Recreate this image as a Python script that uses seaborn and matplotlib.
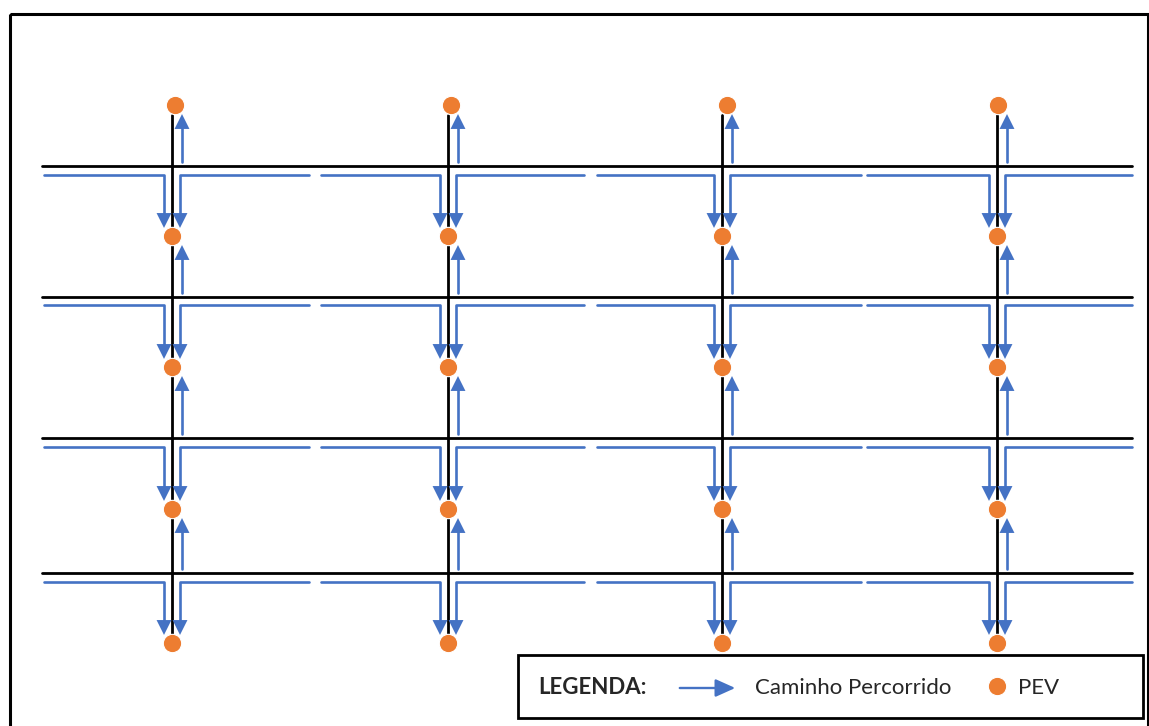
import matplotlib
matplotlib.use("Agg")
import matplotlib.pyplot as plt
import seaborn as sns
import pandas as pd
from matplotlib.patches import Rectangle

sns.set_theme(style="white")
plt.rcParams['font.family'] = ['Lato', 'DejaVu Sans']

BLUE = "#4472C4"
ORANGE = "#ED7D31"

# grid of streets (pixel coordinates of the original diagram)
col_x = [172, 448, 722, 997]
top_pev_x = [175, 451, 727, 998]
street_y = [166, 297, 438, 573]
path_y = [175, 305, 447, 582]
pev_y = [105, 236, 367, 509, 643]
street_x0, street_x1 = 42, 1132
arm_start = [44, 321, 597, 867]
arm_end = [309, 584, 861, 1132]

legend_title = "LEGENDA:"
legend_path = "Caminho Percorrido"
legend_pev = "PEV"

fig = plt.figure(figsize=(11.49, 7.26), dpi=100)
ax = fig.add_axes([0, 0, 1, 1])
ax.set_xlim(0, 1149)
ax.set_ylim(726, 0)
ax.axis("off")

# black streets
rows = []
seg = 0
for y in street_y:
    rows += [(street_x0, y, seg), (street_x1, y, seg)]
    seg += 1
for x in col_x:
    rows += [(x, pev_y[0] + 10, seg), (x, pev_y[-1], seg)]
    seg += 1
streets = pd.DataFrame(rows, columns=["x", "y", "seg"])
sns.lineplot(data=streets, x="x", y="y", units="seg", estimator=None, sort=False,
             color="black", lw=2.0, ax=ax, zorder=1)

# blue paths
rows = []
down_tips = []
up_tips = []
seg = 0
for r, py in enumerate(path_y):
    tip = pev_y[r + 1] - 8
    for c, x in enumerate(col_x):
        rows += [(arm_start[c], py, seg), (x - 8, py, seg), (x - 8, tip - 7, seg)]
        seg += 1
        rows += [(arm_end[c], py, seg), (x + 8, py, seg), (x + 8, tip - 7, seg)]
        seg += 1
        down_tips += [(x - 8, tip - 7.5), (x + 8, tip - 7.5)]
        # upward arrow towards the PEV above
        ux = x + 10
        utip = pev_y[r] + 9
        rows += [(ux, street_y[r] - 4, seg), (ux, utip + 7, seg)]
        seg += 1
        up_tips.append((ux, utip + 7.5))
paths = pd.DataFrame(rows, columns=["x", "y", "seg"])
sns.lineplot(data=paths, x="x", y="y", units="seg", estimator=None, sort=False,
             color=BLUE, lw=1.9, ax=ax, zorder=2)

dt = pd.DataFrame(down_tips, columns=["x", "y"])
ut = pd.DataFrame(up_tips, columns=["x", "y"])
sns.scatterplot(data=dt, x="x", y="y", marker="v", s=115, color=BLUE,
                edgecolor="none", ax=ax, zorder=3)
sns.scatterplot(data=ut, x="x", y="y", marker="^", s=115, color=BLUE,
                edgecolor="none", ax=ax, zorder=3)

# PEV points
pts = []
for r, y in enumerate(pev_y):
    for c in range(len(col_x)):
        pts.append((top_pev_x[c] if r == 0 else col_x[c], y))
pev = pd.DataFrame(pts, columns=["x", "y"])
sns.scatterplot(data=pev, x="x", y="y", s=175, color=ORANGE, edgecolor="white",
                linewidth=0.8, ax=ax, zorder=4)

# outer frame
ax.add_patch(Rectangle((10, 14), 1138, 720, fill=False, lw=2.2, ec="black", zorder=5))

# legend box
ax.add_patch(Rectangle((518, 655), 625, 63, fill=True, fc="white", lw=2.0, ec="black", zorder=5))
ax.text(538, 688, legend_title, fontsize=16, fontweight="bold", va="center", ha="left", zorder=6)
ax.annotate("", xy=(738, 688), xytext=(677, 688),
            arrowprops=dict(arrowstyle="-|>,head_length=1.0,head_width=0.45", color=BLUE, lw=1.7),
            zorder=6)
ax.text(755, 688, legend_path, fontsize=16, va="center", ha="left", zorder=6)
leg_dot = pd.DataFrame({"x": [997], "y": [686]})
sns.scatterplot(data=leg_dot, x="x", y="y", s=175, color=ORANGE, edgecolor="white",
                linewidth=0.8, ax=ax, zorder=6)
ax.text(1018, 688, legend_pev, fontsize=16, va="center", ha="left", zorder=6)

ax.set_xlabel("")
ax.set_ylabel("")
fig.savefig("out.png", dpi=100)
